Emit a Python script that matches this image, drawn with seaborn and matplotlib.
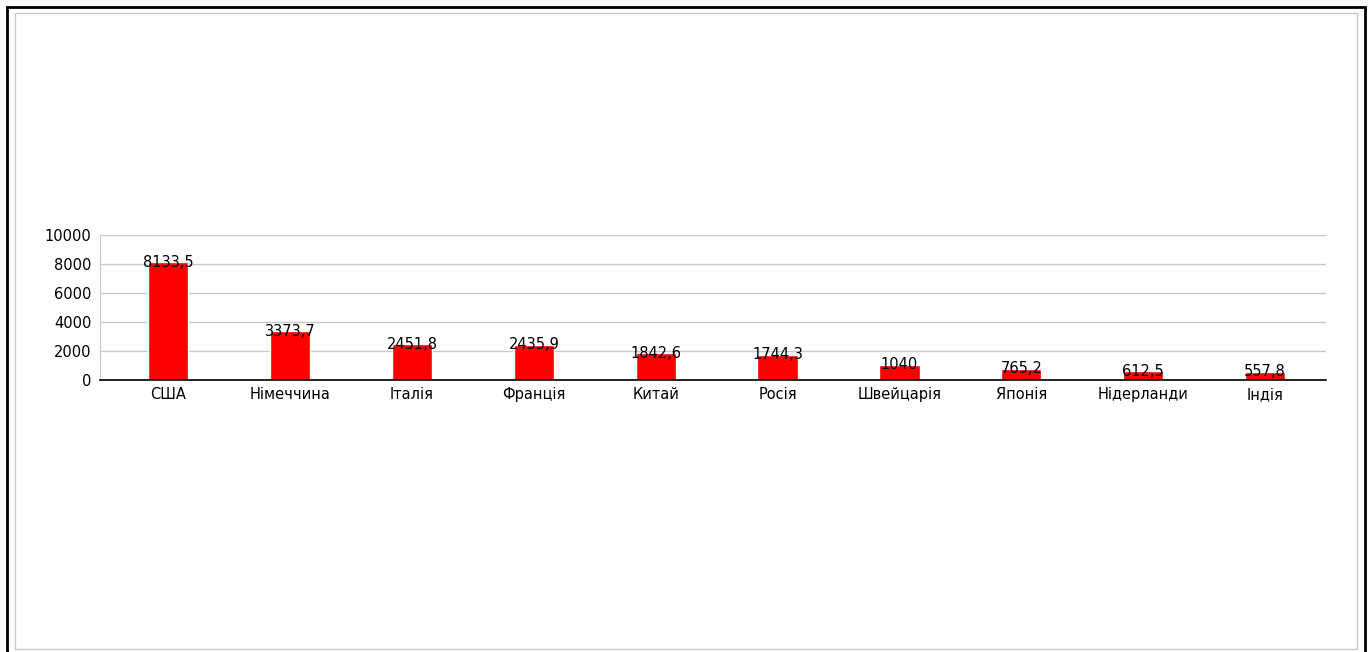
import matplotlib
matplotlib.use("Agg")
from matplotlib import pyplot as plt
from matplotlib.patches import Rectangle
import pandas as pd
import seaborn as sns

# dati
countries = ["США", "Німеччина", "Італія", "Франція", "Китай",
             "Росія", "Швейцарія", "Японія", "Нідерланди", "Індія"]
values = [8133.5, 3373.7, 2451.8, 2435.9, 1842.6, 1744.3, 1040, 765.2, 612.5, 557.8]
y_ticks = [0, 2000, 4000, 6000, 8000, 10000]

df = pd.DataFrame({"country": countries, "value": values})

sns.set_style("white")
plt.rcParams["font.family"] = ["DejaVu Sans"]

fig = plt.figure(figsize=(13.72, 6.52), dpi=100)
ax = fig.add_axes([100 / 1372, 1 - 380 / 652, 1226 / 1372, 145 / 652])

sns.barplot(data=df, x="country", y="value", color="#ff0000", saturation=1,
            width=0.33, ax=ax)

ax.set_ylim(0, 10000)
ax.set_yticks(y_ticks)
ax.set_xlim(-0.56, len(countries) - 0.5)
ax.yaxis.grid(True, color="#c8c8c8", linewidth=1)
ax.set_axisbelow(True)
ax.set_xlabel("")
ax.set_ylabel("")
ax.tick_params(axis="both", labelsize=10.5, colors="black", length=0, pad=5)
ax.tick_params(axis="y", length=4, color="#c8c8c8", pad=2)

for s in ["top", "right"]:
    ax.spines[s].set_visible(False)
ax.spines["left"].set_color("#c8c8c8")
ax.spines["bottom"].set_color("black")
ax.spines["bottom"].set_linewidth(1.2)

# etichette valori
for i, v in enumerate(values):
    txt = f"{v:g}".replace(".", ",")
    ax.text(i, v, txt, ha="center", va="center", fontsize=10.5, color="black")

# bordi
fig.patches.append(Rectangle((7 / 1372, -0.01), 1358 / 1372, 1 - 7 / 652 + 0.01,
                             transform=fig.transFigure, fill=False,
                             edgecolor="black", linewidth=2))
fig.patches.append(Rectangle((15 / 1372, 3 / 652), 1342 / 1372, 1 - 16 / 652,
                             transform=fig.transFigure, fill=False,
                             edgecolor="#c8c8c8", linewidth=1))

fig.savefig("out.png", dpi=100)
